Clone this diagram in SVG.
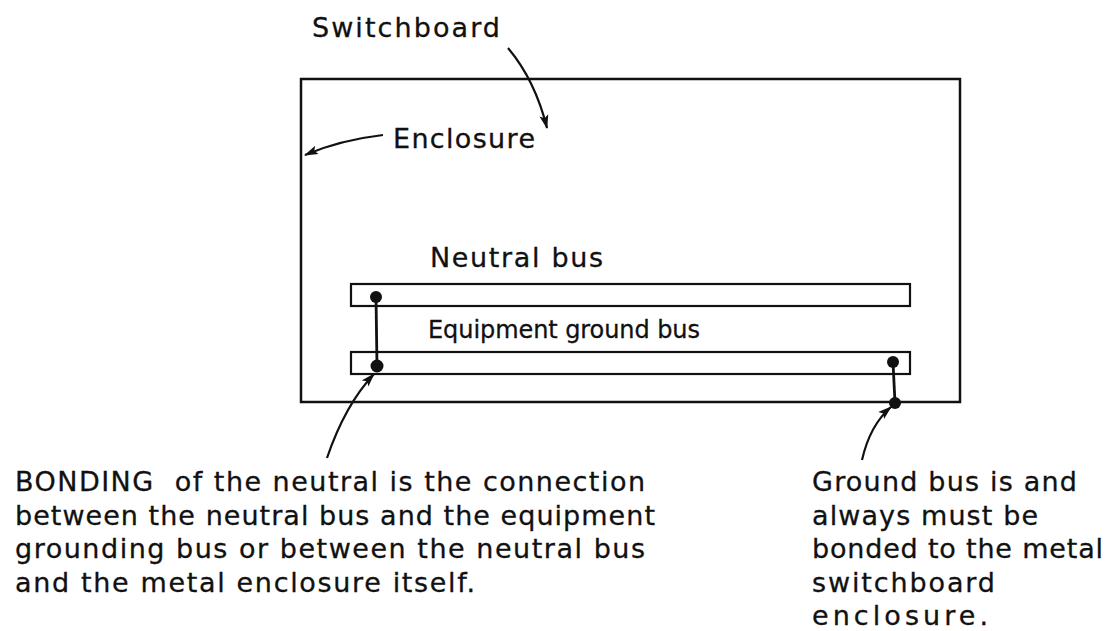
<svg xmlns="http://www.w3.org/2000/svg" width="1110" height="631" viewBox="0 0 1110 631">
<defs>
<style>
text{font-family:"DejaVu Sans","Liberation Sans",sans-serif;font-size:27px;fill:#111;stroke:#111;stroke-width:0.3;}
.small{font-size:24px;}
.box{fill:none;stroke:#111;stroke-width:2.5;}
.bar{fill:none;stroke:#111;stroke-width:2.2;}
.arrow{fill:none;stroke:#111;stroke-width:2.2;marker-end:url(#ah);}
.bond{stroke:#111;stroke-width:2.8;fill:none;}
.dot{fill:#111;}
</style>
<marker id="ah" viewBox="0 0 14 10" refX="13" refY="5" markerWidth="14" markerHeight="10" markerUnits="userSpaceOnUse" orient="auto">
<path d="M0,0.5 L14,5 L0,9.5 L3,5 Z" fill="#111"/>
</marker>
</defs>
<rect width="1110" height="631" fill="#fff"/>

<g id="enclosure">
<rect class="box" x="301" y="79" width="659" height="323"/>
</g>
<g id="neutral-bus">
<rect class="bar" x="351" y="284" width="559" height="22"/>
</g>
<g id="ground-bus">
<rect class="bar" x="351" y="352" width="559" height="22"/>
</g>

<g id="connectors">
<path class="arrow" d="M508,48 Q535,80 547,128"/>
<path class="arrow" d="M383,135 Q340,140 305,155"/>
<path class="arrow" d="M327,458 Q345,405 374,374"/>
<path class="arrow" d="M862,460 Q870,425 891,407"/>
<line class="bond" x1="376" y1="297" x2="377" y2="366"/>
<line class="bond" x1="893" y1="362" x2="895" y2="403"/>
<circle class="dot" cx="376" cy="297" r="6"/>
<circle class="dot" cx="377" cy="366" r="6.5"/>
<circle class="dot" cx="893" cy="362" r="6"/>
<circle class="dot" cx="895" cy="403" r="6"/>
</g>

<g id="labels">
<text x="312" y="37" textLength="188" lengthAdjust="spacing">Switchboard</text>
<text x="393" y="148" textLength="142" lengthAdjust="spacing">Enclosure</text>
<text x="430" y="267" textLength="173" lengthAdjust="spacing">Neutral bus</text>
<text class="small" x="428" y="338" textLength="272" lengthAdjust="spacing">Equipment ground bus</text>
</g>

<g id="bonding-note">
<text x="15" y="491" textLength="630" lengthAdjust="spacing" xml:space="preserve">BONDING  of the neutral is the connection</text>
<text x="15" y="525" textLength="640" lengthAdjust="spacing">between the neutral bus and the equipment</text>
<text x="15" y="558" textLength="630" lengthAdjust="spacing">grounding bus or between the neutral bus</text>
<text x="15" y="592" textLength="460" lengthAdjust="spacing">and the metal enclosure itself.</text>
</g>

<g id="ground-note">
<text x="812" y="491" textLength="265" lengthAdjust="spacing">Ground bus is and</text>
<text x="812" y="525" textLength="226" lengthAdjust="spacing">always must be</text>
<text x="812" y="558" textLength="291" lengthAdjust="spacing">bonded to the metal</text>
<text x="812" y="592" textLength="183" lengthAdjust="spacing">switchboard</text>
<text x="812" y="625" textLength="176" lengthAdjust="spacing">enclosure.</text>
</g>
</svg>
